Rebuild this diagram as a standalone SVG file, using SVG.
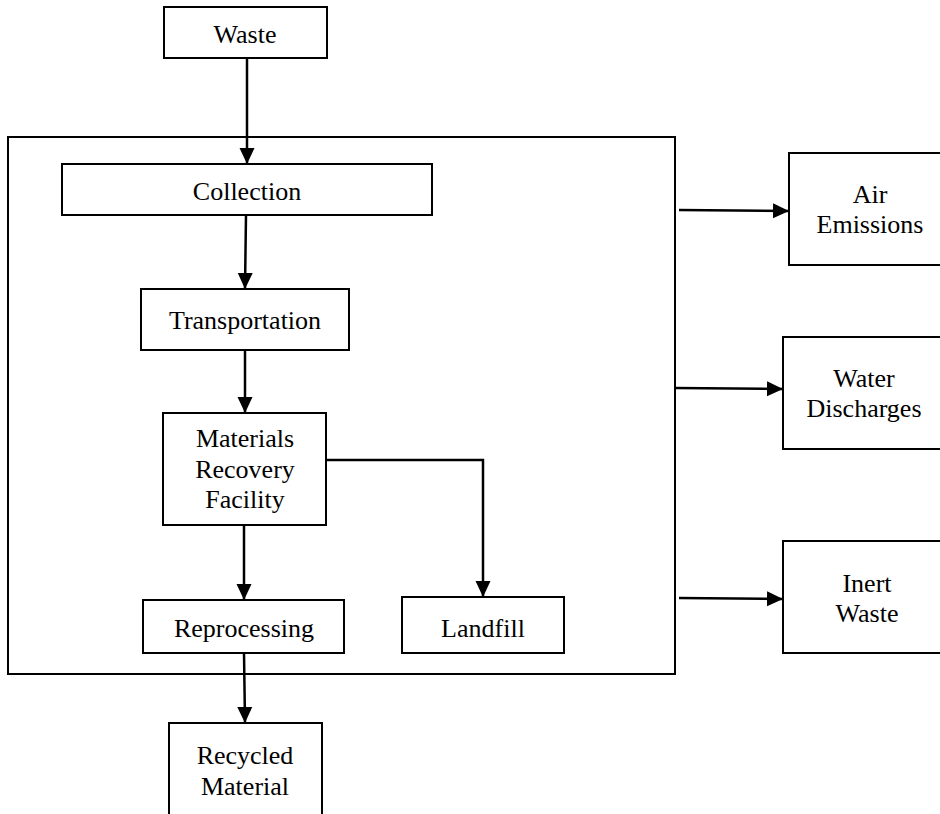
<svg xmlns="http://www.w3.org/2000/svg" width="940" height="814" viewBox="0 0 940 814">
<defs>
<marker id="ah" markerUnits="userSpaceOnUse" markerWidth="16" markerHeight="16" viewBox="0 0 16 16" refX="16" refY="8" orient="auto">
<path d="M0,0.5 L16,8 L0,15.5 Z" fill="#000"/>
</marker>
</defs>
<style>
rect{fill:#fff;stroke:#000;stroke-width:2}
text{font-family:"Liberation Serif","Times New Roman",serif;font-size:26px;fill:#000;text-anchor:middle}
.c line,.c path{stroke:#000;stroke-width:2.5;fill:none}
</style>
<g id="system"><rect x="8" y="137" width="667" height="537"/></g>
<g id="waste"><rect x="164" y="7" width="163" height="51"/><text x="245" y="43">Waste</text></g>
<g id="collection"><rect x="62" y="164" width="370" height="51"/><text x="247" y="200">Collection</text></g>
<g id="transportation"><rect x="141" y="289" width="208" height="61"/><text x="245" y="329">Transportation</text></g>
<g id="mrf"><rect x="163" y="413" width="163" height="112"/><text x="245" y="447">Materials</text><text x="245" y="478">Recovery</text><text x="245" y="508">Facility</text></g>
<g id="reprocessing"><rect x="143" y="600" width="201" height="53"/><text x="244" y="637">Reprocessing</text></g>
<g id="landfill"><rect x="402" y="597" width="162" height="56"/><text x="483" y="637">Landfill</text></g>
<g id="recycled"><rect x="169" y="723" width="153" height="100"/><text x="245" y="764">Recycled</text><text x="245" y="795">Material</text></g>
<g id="air"><rect x="789" y="153" width="170" height="112"/><text x="870" y="203">Air</text><text x="870" y="233">Emissions</text></g>
<g id="water"><rect x="783" y="337" width="175" height="112"/><text x="864" y="387">Water</text><text x="864" y="417">Discharges</text></g>
<g id="inert"><rect x="783" y="541" width="175" height="112"/><text x="867" y="592">Inert</text><text x="867" y="622">Waste</text></g>
<g class="c" id="connectors">
<line x1="247" y1="58" x2="247" y2="164" marker-end="url(#ah)"/>
<line x1="246" y1="215" x2="245" y2="289" marker-end="url(#ah)"/>
<line x1="245" y1="350" x2="245" y2="413" marker-end="url(#ah)"/>
<path d="M326,460 H483 V597" marker-end="url(#ah)"/>
<line x1="244" y1="525" x2="244" y2="600" marker-end="url(#ah)"/>
<line x1="244" y1="653" x2="245" y2="723" marker-end="url(#ah)"/>
<line x1="679" y1="210" x2="789" y2="211" marker-end="url(#ah)"/>
<line x1="675" y1="388" x2="783" y2="389" marker-end="url(#ah)"/>
<line x1="679" y1="598" x2="783" y2="599" marker-end="url(#ah)"/>
</g>
</svg>
